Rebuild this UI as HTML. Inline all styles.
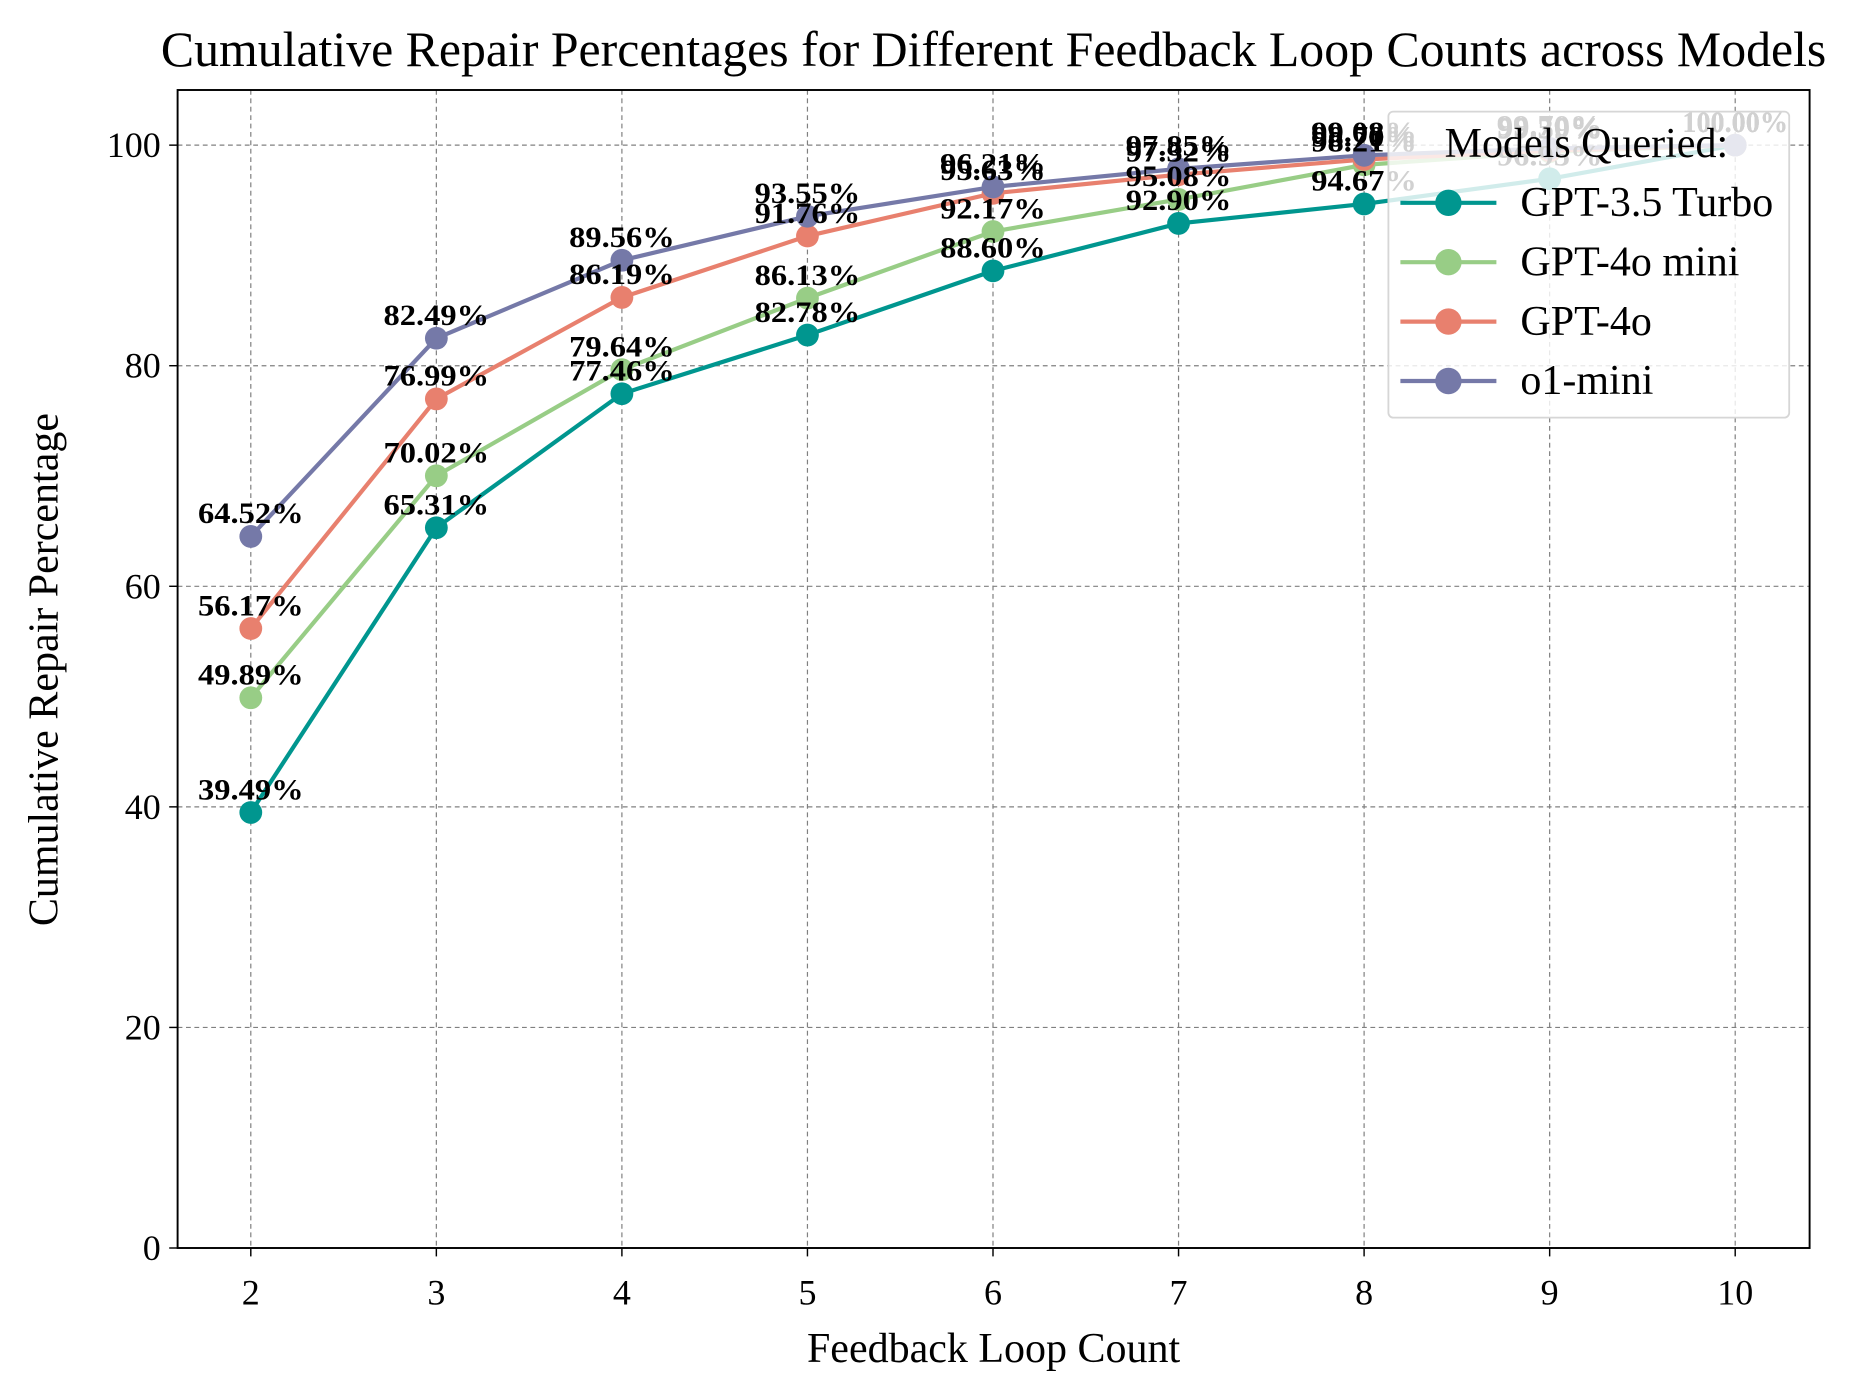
<!DOCTYPE html>
<html><head><meta charset="utf-8"><style>html,body{margin:0;padding:0;background:#fff}svg{display:block}text{font-family:"Liberation Serif",serif}</style></head>
<body>
<svg id="chart" width="1875" height="1396" viewBox="0 0 1562.5 1163.33" xmlns="http://www.w3.org/2000/svg">
<rect width="1562.5" height="1163.33" fill="#fff"/>
<g id="grid"></g>
<g id="series"></g>
<g id="labels"></g>
<g id="axes"></g>
</svg>
<script>
const categories = [2,3,4,5,6,7,8,9,10];
const seriesNames = ["GPT-3.5 Turbo","GPT-4o mini","GPT-4o","o1-mini"];
const gpt35 = [39.49,65.31,77.46,82.78,88.60,92.90,94.67,96.95,100];
const gpt4omini = [49.89,70.02,79.64,86.13,92.17,95.08,98.21,99.39,100];
const gpt4o = [56.17,76.99,86.19,91.76,95.63,97.32,98.70,99.50,100];
const o1mini = [64.52,82.49,89.56,93.55,96.21,97.85,99.08,99.70,100];
const yTicks = [0,20,40,60,80,100];
const colors = ["#00968f","#98cd86","#e8806e","#7579a8"];

const NS="http://www.w3.org/2000/svg";
const L=148,R=1508,T=75,B=1040;
const xs=v=>209+(v-2)*(1446-209)/8;
const ys=v=>B-v*(B-T)/105;
function mk(tag,attrs,parent,txt){const e=document.createElementNS(NS,tag);for(const k in attrs)e.setAttribute(k,attrs[k]);if(txt!==undefined)e.textContent=txt;parent.appendChild(e);return e;}
const grid=document.getElementById('grid'),ser=document.getElementById('series'),lab=document.getElementById('labels'),ax=document.getElementById('axes');

categories.forEach(c=>{
  const g=mk('line',{x1:xs(c),x2:xs(c),y1:T,y2:B,stroke:'#808080','stroke-width':1,'stroke-dasharray':'4,3'},grid);
  
  
  const t=mk('line',{x1:xs(c),x2:xs(c),y1:B,y2:B+7,stroke:'#000','stroke-width':1.2},ax);
  
  
  const tl=mk('text',{x:xs(c),y:B+47,'font-size':30,'text-anchor':'middle'},ax,String(c));
  
  
});
yTicks.forEach(v=>{
  const g=mk('line',{x1:L,x2:R,y1:ys(v),y2:ys(v),stroke:'#808080','stroke-width':1,'stroke-dasharray':'4,3'},grid);
  
  
  const t=mk('line',{x1:L-7,x2:L,y1:ys(v),y2:ys(v),stroke:'#000','stroke-width':1.2},ax);
  
  
  const tl=mk('text',{x:L-14,y:ys(v)+10,'font-size':30,'text-anchor':'end'},ax,String(v));
  
  
});

const allSeries=[gpt35,gpt4omini,gpt4o,o1mini];
allSeries.forEach((d,i)=>{
  const pts=d.map((v,j)=>xs(categories[j])+','+ys(v)).join(' ');
  const pl=mk('polyline',{points:pts,fill:'none',stroke:colors[i],'stroke-width':3.5},ser);
  
  
  d.forEach((v,j)=>{
    const c=mk('circle',{cx:xs(categories[j]),cy:ys(v),r:9.5,fill:colors[i]},ser);
    
    
    const t=mk('text',{x:xs(categories[j]),y:ys(v)-11,'font-size':25,'font-weight':'bold','text-anchor':'middle',textLength:88,lengthAdjust:'spacingAndGlyphs'},lab,v.toFixed(2)+'%');
    
    
  });
});

const fr=mk('rect',{x:L,y:T,width:R-L,height:B-T,fill:'none',stroke:'#000','stroke-width':1.6},ax);


const title=mk('text',{x:828,y:55,'font-size':41.5,'text-anchor':'middle'},ax,'Cumulative Repair Percentages for Different Feedback Loop Counts across Models');


const xt=mk('text',{x:828,y:1135,'font-size':35,'text-anchor':'middle'},ax,'Feedback Loop Count');


const yt=mk('text',{x:48,y:558,'font-size':35,'text-anchor':'middle',transform:'rotate(-90 48 558)'},ax,'Cumulative Repair Percentage');



const lg=mk('g',{},ax);


mk('rect',{x:1157,y:93,width:334,height:255,rx:4,fill:'#fff','fill-opacity':0.82,stroke:'#d6d6d6','stroke-width':1.5},lg);
const lt=mk('text',{x:1322,y:131,'font-size':35,'text-anchor':'middle'},lg,'Models Queried:');


seriesNames.forEach((n,i)=>{
  const y=169+i*49.5;
  const e=mk('g',{},lg);
  
  
  mk('line',{x1:1167,x2:1247,y1:y,y2:y,stroke:colors[i],'stroke-width':3.5},e);
  mk('circle',{cx:1207,cy:y,r:11,fill:colors[i]},e);
  mk('text',{x:1267,y:y+11,'font-size':35},e,n);
});
</script>
</body></html>
